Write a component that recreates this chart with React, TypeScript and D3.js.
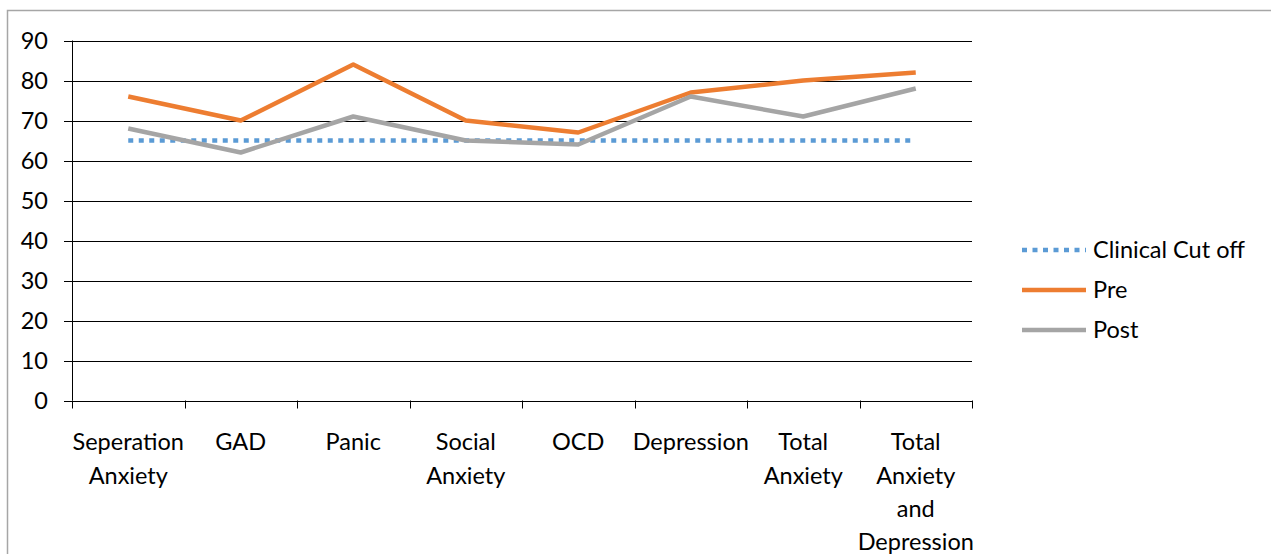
import React, { useEffect, useRef } from "react";
import * as d3 from "d3";

const categories = [
  ["Seperation", "Anxiety"],
  ["GAD"],
  ["Panic"],
  ["Social", "Anxiety"],
  ["OCD"],
  ["Depression"],
  ["Total", "Anxiety"],
  ["Total", "Anxiety", "and", "Depression"],
];
const cutoff = [65, 65, 65, 65, 65, 65, 65, 65];
const pre = [76, 70, 84, 70, 67, 77, 80, 82];
const post = [68, 62, 71, 65, 64, 76, 71, 78];
const yTicks = [0, 10, 20, 30, 40, 50, 60, 70, 80, 90];

const series = [
  { name: "Clinical Cut off", values: cutoff, color: "#5B9BD5", dash: "5,5.5" },
  { name: "Pre", values: pre, color: "#ED7D31", dash: null },
  { name: "Post", values: post, color: "#A5A5A5", dash: null },
];

const FONT = "Lato, 'Noto Sans', sans-serif";
const FS = "23.5px";

const App = () => {
  const ref = useRef<SVGSVGElement>(null);

  useEffect(() => {
    const svg = d3.select(ref.current);
    svg.selectAll("*").remove();

    const left = 72,
      right = 972,
      top = 40.5,
      bottom = 400.5;

    const x = d3
      .scaleBand<number>()
      .domain(d3.range(categories.length))
      .range([left, right]);
    const y = d3.scaleLinear().domain([0, 90]).range([bottom, top]);

    // outer frame
    svg
      .append("rect")
      .attr("x", 7.5)
      .attr("y", 10.5)
      .attr("width", 1300)
      .attr("height", 600)
      .attr("fill", "white")
      .attr("stroke", "#a6a6a6")
      .attr("stroke-width", 1.5);

    // gridlines + y labels
    yTicks.forEach((t) => {
      svg
        .append("line")
        .attr("x1", 64)
        .attr("x2", right)
        .attr("y1", Math.round(y(t)) + 0.5)
        .attr("y2", Math.round(y(t)) + 0.5)
        .attr("stroke", "#000")
        .attr("stroke-width", 1);
      svg
        .append("text")
        .attr("x", 48)
        .attr("y", y(t))
        .attr("dy", "0.35em")
        .attr("text-anchor", "end")
        .style("font-family", FONT)
        .style("font-size", FS)
        .text(t);
    });

    // y axis line
    svg
      .append("line")
      .attr("x1", left + 0.5)
      .attr("x2", left + 0.5)
      .attr("y1", top)
      .attr("y2", bottom)
      .attr("stroke", "#000");

    // x ticks
    d3.range(categories.length + 1).forEach((i) => {
      const xx = Math.round(left + i * x.bandwidth()) + 0.5;
      svg
        .append("line")
        .attr("x1", xx)
        .attr("x2", xx)
        .attr("y1", bottom)
        .attr("y2", bottom + 8)
        .attr("stroke", "#000");
    });

    // x labels
    categories.forEach((lines, i) => {
      const t = svg
        .append("text")
        .attr("text-anchor", "middle")
        .style("font-family", FONT)
        .style("font-size", FS);
      lines.forEach((ln, j) => {
        t.append("tspan")
          .attr("x", x(i)! + x.bandwidth() / 2)
          .attr("y", 442 + j * 33.3)
          .attr("dy", "0.35em")
          .text(ln);
      });
    });

    const line = d3
      .line<number>()
      .x((_, i) => x(i)! + x.bandwidth() / 2)
      .y((d) => y(d));

    series.forEach((s) => {
      svg
        .append("path")
        .attr("d", line(s.values))
        .attr("fill", "none")
        .attr("stroke", s.color)
        .attr("stroke-width", 4.5)
        .attr("stroke-linejoin", "round")
        .attr("stroke-dasharray", s.dash);
    });

    // legend
    series.forEach((s, i) => {
      const ly = 250 + i * 40;
      svg
        .append("line")
        .attr("x1", 1022)
        .attr("x2", 1086)
        .attr("y1", ly)
        .attr("y2", ly)
        .attr("stroke", s.color)
        .attr("stroke-width", 4.5)
        .attr("stroke-dasharray", s.dash);
      svg
        .append("text")
        .attr("x", 1093)
        .attr("y", ly)
        .attr("dy", "0.35em")
        .style("font-family", FONT)
        .style("font-size", FS)
        .text(s.name);
    });
  }, []);

  return (
    <svg
      ref={ref}
      width={1271}
      height={554}
      style={{ position: "absolute", left: 0, top: 0 }}
    />
  );
};

export default App;
